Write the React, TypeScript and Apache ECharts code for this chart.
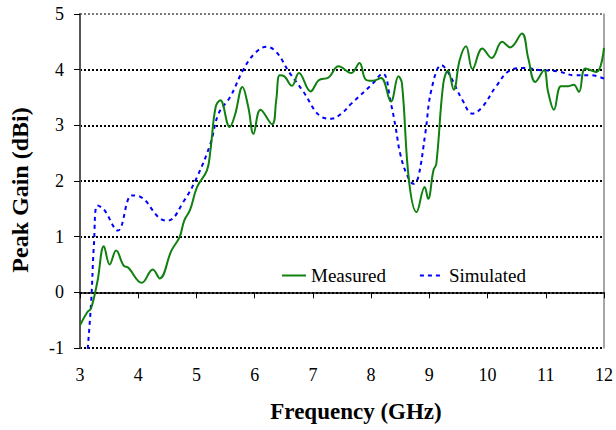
import React, { useEffect, useRef } from "react";
import * as echarts from "echarts";

const measuredFreq = [3.0, 3.13, 3.19, 3.3, 3.41, 3.51, 3.62, 3.75, 3.83, 4.06, 4.25, 4.37, 4.57, 4.71, 4.79, 4.89, 5.01, 5.18, 5.24, 5.33, 5.41, 5.57, 5.66, 5.79, 5.89, 5.98, 6.1, 6.3, 6.37, 6.43, 6.51, 6.64, 6.76, 6.96, 7.1, 7.27, 7.44, 7.66, 7.8, 7.91, 8.03, 8.17, 8.34, 8.47, 8.53, 8.65, 8.78, 8.92, 8.98, 9.07, 9.12, 9.24, 9.32, 9.42, 9.52, 9.63, 9.74, 9.91, 10.07, 10.25, 10.39, 10.59, 10.7, 10.82, 10.97, 11.04, 11.14, 11.26, 11.38, 11.48, 11.57, 11.68, 11.87, 12.0];
const measuredGain = [-0.59, -0.35, -0.29, 0.2, 0.83, 0.5, 0.75, 0.48, 0.44, 0.17, 0.41, 0.25, 0.75, 0.99, 1.29, 1.48, 1.89, 2.19, 2.55, 3.33, 3.45, 2.97, 3.18, 3.69, 3.33, 2.85, 3.28, 3.02, 3.45, 3.9, 3.88, 3.71, 3.94, 3.61, 3.81, 3.86, 4.06, 3.94, 4.12, 3.82, 3.8, 3.85, 3.43, 3.88, 3.75, 2.01, 1.44, 1.89, 1.68, 2.19, 2.31, 3.75, 3.98, 3.64, 4.17, 4.42, 4.01, 4.38, 4.21, 4.5, 4.4, 4.65, 4.2, 3.78, 3.99, 3.6, 3.28, 3.7, 3.7, 3.73, 3.6, 4.02, 3.96, 4.39];

const simulatedFreq = [3.11, 3.19, 3.24, 3.3, 3.41, 3.65, 3.89, 4.03, 4.4, 4.51, 4.79, 5.01, 5.24, 5.38, 5.58, 5.8, 6.0, 6.2, 6.37, 6.59, 6.82, 7.15, 7.32, 7.49, 7.66, 8.0, 8.2, 8.34, 8.42, 8.5, 8.62, 8.73, 8.81, 8.93, 9.04, 9.21, 9.32, 9.57, 9.74, 9.91, 10.14, 10.39, 10.62, 10.92, 11.21, 11.49, 11.77, 12.0];
const simulatedGain = [-1.3, -0.2, 0.87, 1.56, 1.49, 1.11, 1.74, 1.72, 1.31, 1.29, 1.65, 2.07, 2.67, 3.21, 3.51, 3.99, 4.29, 4.41, 4.32, 3.96, 3.63, 3.15, 3.12, 3.21, 3.39, 3.72, 3.93, 3.39, 2.97, 2.49, 2.1, 1.95, 2.07, 2.85, 3.66, 4.08, 3.96, 3.45, 3.21, 3.33, 3.69, 3.99, 4.03, 3.99, 3.97, 3.9, 3.9, 3.84];

const seriesNames = ["Measured", "Simulated"];
const xTitle = "Frequency (GHz)";
const yTitle = "Peak Gain (dBi)";

const FONT = "Liberation Serif";

export default function App() {
  const ref = useRef<HTMLDivElement>(null);
  useEffect(() => {
    if (!ref.current) return;
    const chart = echarts.init(ref.current, null, { renderer: "svg" });
    const zip = (xs: number[], ys: number[]) => xs.map((x, i) => [x, ys[i]]);
    chart.setOption({
      animation: false,
      backgroundColor: "#fff",
      textStyle: { fontFamily: FONT },
      grid: { left: 74, right: 9, top: 14, bottom: 82 },
      legend: {
        data: seriesNames,
        left: 260,
        top: 262,
        padding: [4, 17, 4, 21],
        backgroundColor: "#fff",
        itemWidth: 24,
        itemHeight: 10,
        itemGap: 33,
        itemStyle: { opacity: 0 },
        textStyle: { fontFamily: FONT, fontSize: 19, color: "#000" },
      },
      xAxis: {
        type: "value",
        min: 3,
        max: 12,
        interval: 1,
        name: xTitle,
        nameLocation: "middle",
        nameGap: 52,
        nameTextStyle: {
          fontFamily: FONT,
          fontSize: 23,
          fontWeight: "bold",
          color: "#000",
          padding: [0, 0, 0, 28],
        },
        axisLine: { show: true, lineStyle: { color: "#000", width: 1.5 } },
        axisTick: { show: true, length: 6, lineStyle: { color: "#000" } },
        axisLabel: { fontFamily: FONT, fontSize: 18, color: "#000", margin: 18 },
        splitLine: { show: false },
      },
      yAxis: [
        {
          type: "value",
          min: -1,
          max: 5,
          interval: 1,
          name: yTitle,
          nameLocation: "middle",
          nameGap: 48,
          nameTextStyle: {
            fontFamily: FONT,
            fontSize: 24,
            fontWeight: "bold",
            color: "#000",
            padding: [0, 18, 0, 0],
          },
          axisLine: { show: true, lineStyle: { color: "#555", width: 2 } },
          axisTick: { show: true, length: 6, lineStyle: { color: "#000" } },
          axisLabel: { fontFamily: FONT, fontSize: 18, color: "#000", margin: 16 },
          splitLine: {
            show: true,
            lineStyle: {
              color: ["#000", "#000", "#000", "#000", "#000", "#000", "#777"],
              width: 2,
              type: [2, 2],
            },
          },
        },
        {
          type: "value",
          min: -1,
          max: 5,
          interval: 1,
          position: "right",
          axisLine: { show: true, onZero: false, lineStyle: { color: "#888", width: 1.5 } },
          axisTick: { show: false },
          axisLabel: { show: false },
          splitLine: { show: false },
        },
      ],
      series: [
        {
          name: seriesNames[0],
          type: "line",
          data: zip(measuredFreq, measuredGain),
          smooth: 0.4,
          symbol: "none",
          showSymbol: false,
          lineStyle: { color: "#108010", width: 2 },
          itemStyle: { color: "#108010" },
          clip: true,
          z: 3,
        },
        {
          name: seriesNames[1],
          type: "line",
          data: zip(simulatedFreq, simulatedGain),
          smooth: 0.4,
          symbol: "none",
          showSymbol: false,
          lineStyle: { color: "#0000ff", width: 2, type: [4, 4] },
          itemStyle: { color: "#0000ff" },
          clip: true,
          z: 2,
        },
      ],
    });
    return () => chart.dispose();
  }, []);
  return (
    <div
      ref={ref}
      style={{ position: "absolute", left: 0, top: 0, width: 616, height: 430 }}
    />
  );
}
